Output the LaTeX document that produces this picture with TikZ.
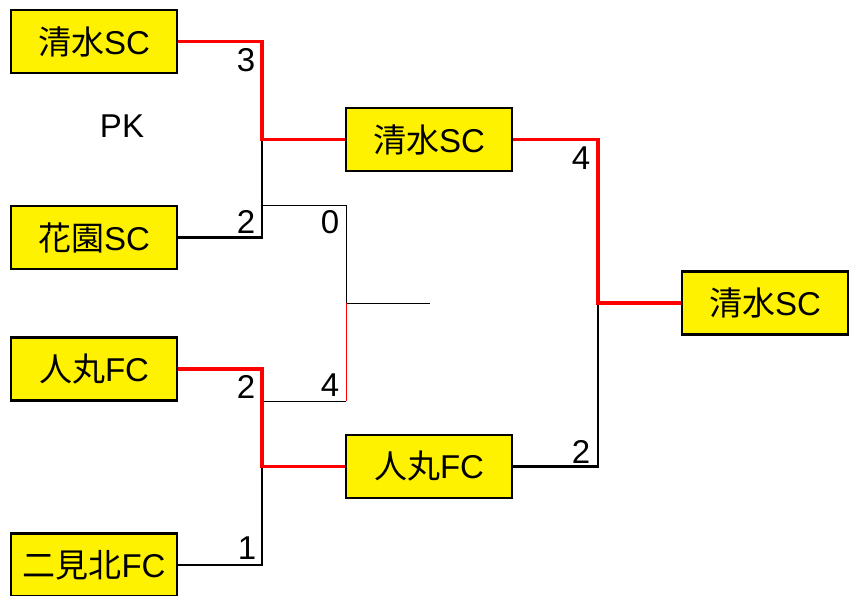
\documentclass[tikz,border=0pt]{standalone}
\usepackage{fontspec}
\setmainfont{Liberation Sans}
\newfontfamily\cjk{Noto Sans CJK JP}
\begin{document}
\begin{tikzpicture}[x=1pt,y=-1pt,
  team/.style={draw=black,line width=2.8pt,fill=yellow,minimum width=166pt,minimum height=63pt,inner sep=0pt,font=\fontsize{33}{33}\selectfont},
  win/.style={draw=red,line width=3.8pt},
  lose/.style={draw=black,line width=2.6pt},
  thinl/.style={draw=black,line width=0.9pt},
  thinr/.style={draw=red,line width=0.9pt},
  score/.style={font=\fontsize{33}{33}\selectfont,inner sep=0pt}]
\useasboundingbox (0,0) rectangle (849,595);
\node[team] (b1) at (94,41.5) {{\cjk 清水}SC};
\node[team] (b2) at (94,237.5) {{\cjk 花園}SC};
\node[team] (b3) at (94,369) {{\cjk 人丸}FC};
\node[team] (b4) at (94,565) {{\cjk 二見北}FC};
\node[team] (m1) at (429,139.5) {{\cjk 清水}SC};
\node[team] (m2) at (429,466.5) {{\cjk 人丸}FC};
\node[team] (f) at (765,303) {{\cjk 清水}SC};
\coordinate (j1) at (262,139.5);
\coordinate (j2) at (262,466.5);
\coordinate (j3) at (598,303);
\coordinate (t1) at (262,205);
\coordinate (t2) at (346,205);
\coordinate (t3) at (346,401);
\coordinate (t4) at (262,401);
\coordinate (t5) at (346,303);
\coordinate (t6) at (430,303);
% thin extra bracket
\draw[thinl] (t1) -- (t2) -- (t5) -- (t6);
\draw[thinr] (t5) -- (t3);
\draw[thinl] (t3) -- (t4);
% first round
\draw[lose] (b2.east) -| (j1);
\draw[win] (b1.east) -| (j1) -- (m1.west);
\draw[lose] (b4.east) -| (j2);
\draw[win] (b3.east) -| (j2) -- (m2.west);
% final
\draw[lose] (m2.east) -| (j3);
\draw[win] (m1.east) -| (j3) -- (f.west);
% scores
\node[score] (s1) at (246,60) {3};
\node[score] (s2) at (246,222) {2};
\node[score] (s3) at (330,222) {0};
\node[score] (s4) at (330,385) {4};
\node[score] (s5) at (246,387) {2};
\node[score] (s6) at (247,548) {1};
\node[score] (s7) at (581,158) {4};
\node[score] (s8) at (581,452) {2};
\node[score] (pk) at (122,126) {PK};
\end{tikzpicture}
\end{document}
